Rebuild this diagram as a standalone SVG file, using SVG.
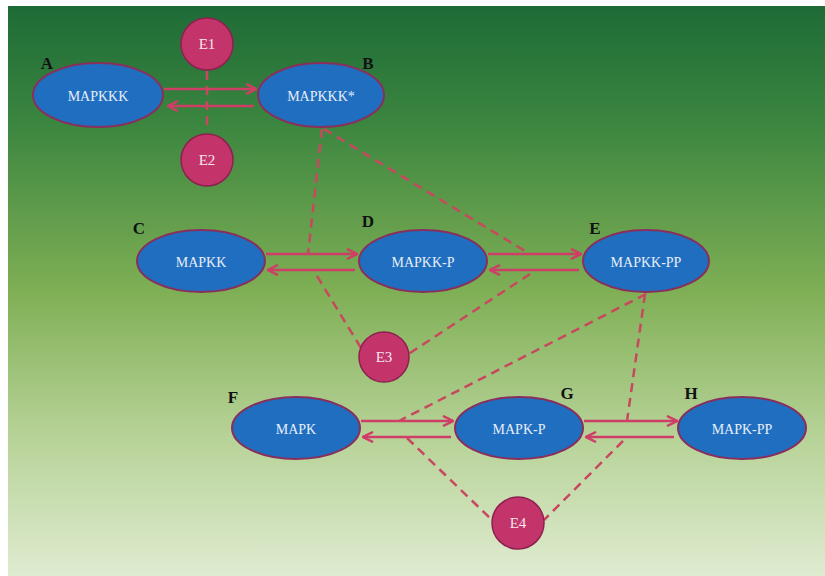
<svg xmlns="http://www.w3.org/2000/svg" width="825" height="576" viewBox="0 0 825 576">
<defs>
<linearGradient id="bg" x1="0" y1="0" x2="0" y2="1">
<stop offset="0" stop-color="#1e6b37"/>
<stop offset="0.2" stop-color="#3a853f"/>
<stop offset="0.5" stop-color="#7faf55"/>
<stop offset="0.75" stop-color="#b6d296"/>
<stop offset="1" stop-color="#dfebd0"/>
</linearGradient>
<marker id="ah" viewBox="0 0 10 10" refX="9" refY="5" markerWidth="5" markerHeight="5" orient="auto" markerUnits="strokeWidth">
<path d="M1,1 L9,5 L1,9" fill="none" stroke="#cf3e66" stroke-width="2"/>
</marker>
<style>
.ell{fill:#1f6ec0;stroke:#8a2f5c;stroke-width:2}
.enz{fill:#c2346a;stroke:#8e2050;stroke-width:1.5}
.t{font-family:"Liberation Serif","Times New Roman",serif;font-size:14px;fill:#e8eef8;text-anchor:middle;dominant-baseline:central}
.te{font-family:"Liberation Serif","Times New Roman",serif;font-size:15px;fill:#f5e6ee;text-anchor:middle;dominant-baseline:central}
.lab{font-family:"Liberation Serif","Times New Roman",serif;font-size:17px;font-weight:bold;fill:#111;text-anchor:middle}
.arr{stroke:#cf3e66;stroke-width:2.5;fill:none;marker-end:url(#ah)}
.dash{stroke:#c84860;stroke-width:2.5;fill:none;stroke-dasharray:9,6}
</style>
</defs>
<rect x="0" y="0" width="825" height="576" fill="#ffffff"/>
<rect x="8" y="6" width="817" height="570" fill="url(#bg)"/>

<g id="connectors">
<line class="arr" x1="164" y1="89" x2="256" y2="89"/>
<line class="arr" x1="254" y1="106" x2="168" y2="106"/>
<line class="arr" x1="266" y1="254" x2="357" y2="254"/>
<line class="arr" x1="355" y1="270" x2="268" y2="270"/>
<line class="arr" x1="488" y1="254" x2="581" y2="254"/>
<line class="arr" x1="579" y1="270" x2="490" y2="270"/>
<line class="arr" x1="361" y1="421" x2="453" y2="421"/>
<line class="arr" x1="451" y1="437" x2="363" y2="437"/>
<line class="arr" x1="584" y1="421" x2="677" y2="421"/>
<line class="arr" x1="674" y1="437" x2="586" y2="437"/>
<line class="dash" x1="207" y1="71" x2="207" y2="126"/>
<line class="dash" x1="322" y1="129" x2="308" y2="254"/>
<line class="dash" x1="324" y1="129" x2="530" y2="254"/>
<line class="dash" x1="317" y1="276" x2="361" y2="348"/>
<line class="dash" x1="530" y1="274" x2="407" y2="355"/>
<line class="dash" x1="646" y1="294" x2="399" y2="421"/>
<line class="dash" x1="645" y1="294" x2="627" y2="421"/>
<line class="dash" x1="407" y1="438" x2="492" y2="520"/>
<line class="dash" x1="623" y1="441" x2="544" y2="520"/>
</g>

<g id="E1"><circle class="enz" cx="207" cy="44" r="26"/><text class="te" x="207" y="44">E1</text></g>
<g id="E2"><circle class="enz" cx="207" cy="160" r="26"/><text class="te" x="207" y="160">E2</text></g>
<g id="E3"><circle class="enz" cx="384" cy="357" r="25"/><text class="te" x="384" y="357">E3</text></g>
<g id="E4"><circle class="enz" cx="518" cy="523" r="26"/><text class="te" x="518" y="523">E4</text></g>

<g id="A"><ellipse class="ell" cx="98" cy="95" rx="65" ry="32"/><text class="t" x="98" y="96">MAPKKK</text><text class="lab" x="47" y="69">A</text></g>
<g id="B"><ellipse class="ell" cx="321" cy="95" rx="63" ry="32"/><text class="t" x="321" y="96">MAPKKK*</text><text class="lab" x="368" y="69">B</text></g>
<g id="C"><ellipse class="ell" cx="201" cy="261" rx="64" ry="31"/><text class="t" x="201" y="262">MAPKK</text><text class="lab" x="139" y="234">C</text></g>
<g id="D"><ellipse class="ell" cx="423" cy="261" rx="64" ry="31"/><text class="t" x="423" y="262">MAPKK-P</text><text class="lab" x="368" y="227">D</text></g>
<g id="E"><ellipse class="ell" cx="646" cy="261" rx="63" ry="31"/><text class="t" x="646" y="262">MAPKK-PP</text><text class="lab" x="595" y="234">E</text></g>
<g id="F"><ellipse class="ell" cx="296" cy="428" rx="64" ry="31"/><text class="t" x="296" y="429">MAPK</text><text class="lab" x="233" y="403">F</text></g>
<g id="G"><ellipse class="ell" cx="519" cy="428" rx="64" ry="31"/><text class="t" x="519" y="429">MAPK-P</text><text class="lab" x="567" y="399">G</text></g>
<g id="H"><ellipse class="ell" cx="742" cy="428" rx="64" ry="31"/><text class="t" x="742" y="429">MAPK-PP</text><text class="lab" x="691" y="399">H</text></g>
</svg>
